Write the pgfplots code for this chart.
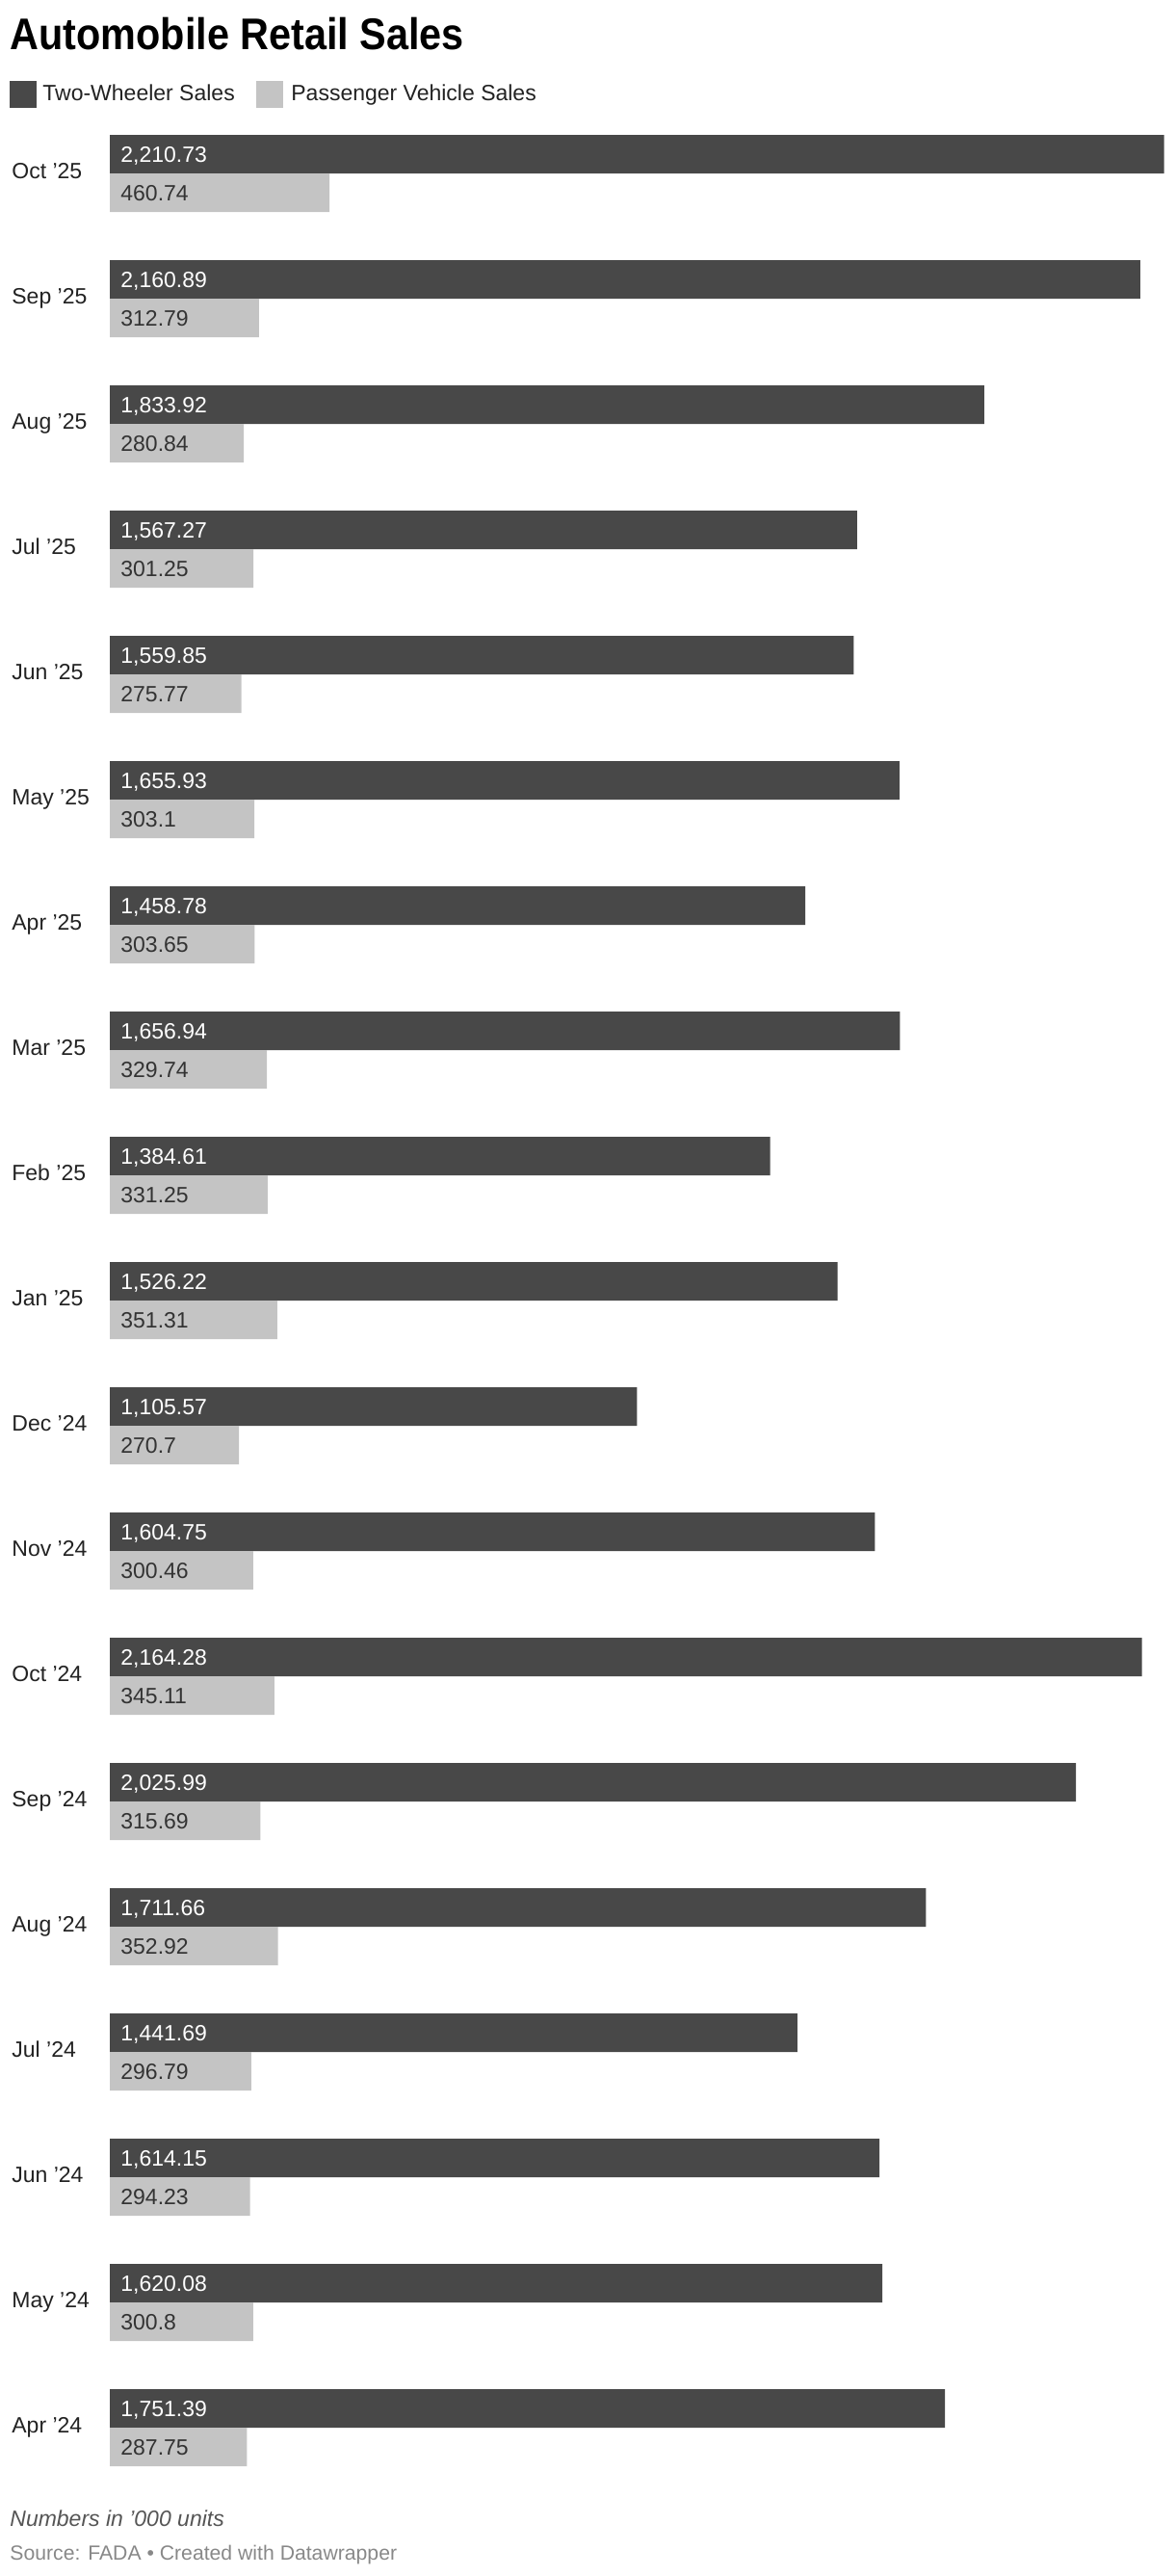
\documentclass[border=0pt]{standalone}
\usepackage{fontspec}
\setmainfont{Liberation Sans}
\newfontfamily\titlefont[FakeStretch=0.9]{Liberation Sans Bold}
\usepackage{pgfplots}
\usepackage{pgfplotstable}
\pgfplotsset{compat=1.18}
\definecolor{twc}{HTML}{484848}
\definecolor{pvc}{HTML}{C4C4C4}
\definecolor{lab}{HTML}{222222}
\definecolor{pvtxt}{HTML}{333333}
\definecolor{foota}{HTML}{555555}
\definecolor{footb}{HTML}{888888}
\pgfplotstableread{
i tw pv
0 2210.73 460.74
1 2160.89 312.79
2 1833.92 280.84
3 1567.27 301.25
4 1559.85 275.77
5 1655.93 303.1
6 1458.78 303.65
7 1656.94 329.74
8 1384.61 331.25
9 1526.22 351.31
10 1105.57 270.7
11 1604.75 300.46
12 2164.28 345.11
13 2025.99 315.69
14 1711.66 352.92
15 1441.69 296.79
16 1614.15 294.23
17 1620.08 300.8
18 1751.39 287.75
}\sales
\begin{document}
\begin{tikzpicture}
\useasboundingbox (0,0) rectangle (610pt,-1337pt);
\begin{scope}[x=0.5pt,y=-0.5pt]
\node[anchor=base west, inner sep=0pt, font=\titlefont\fontsize{23}{27}\selectfont] at (10,52) {Automobile Retail Sales};
\fill[twc] (10,84) rectangle (38,112);
\node[anchor=base west, inner sep=0pt, font=\fontsize{11.5}{14}\selectfont, text=lab] at (44,105) {Two-Wheeler Sales};
\fill[pvc] (266,84) rectangle (294,112);
\node[anchor=base west, inner sep=0pt, font=\fontsize{11.5}{14}\selectfont, text=lab] at (302,105) {Passenger Vehicle Sales};
\node[anchor=base west, inner sep=0pt, font=\itshape\fontsize{11.5}{14}\selectfont, text=foota] at (10,2622) {Numbers in {\symbol{39}}000 units};
\node[anchor=base west, inner sep=0pt, font=\fontsize{10.6}{13}\selectfont, text=footb] at (10,2657) {Source: FADA • Created with Datawrapper};
\end{scope}
\begin{axis}[
  at={(57pt,-57.5pt)}, anchor=north west,
  scale only axis, width=553pt, height=1235pt,
  xmin=0, xmax=2234, ymin=-0.5, ymax=18.5, y dir=reverse,
  axis line style={draw=none}, major tick length=0pt,
  xtick=\empty, ytick={0,...,18},
  yticklabels={Oct ’25, Sep ’25, Aug ’25, Jul ’25, Jun ’25, May ’25, Apr ’25, Mar ’25, Feb ’25, Jan ’25, Dec ’24, Nov ’24, Oct ’24, Sep ’24, Aug ’24, Jul ’24, Jun ’24, May ’24, Apr ’24},
  yticklabel style={anchor=base west, xshift=-51pt, yshift=-2.5pt, inner sep=0pt, font=\fontsize{11.5}{14}\selectfont, text=lab},
  clip=false,
  /pgf/number format/.cd, 1000 sep={,}, precision=2, assume math mode=true]
\addplot[xbar, bar width=20pt, bar shift=0pt, fill=twc, draw=none] table[x=tw, y expr=\thisrow{i}-0.153846]{\sales};
\addplot[xbar, bar width=20pt, bar shift=0pt, fill=pvc, draw=none] table[x=pv, y expr=\thisrow{i}+0.153846]{\sales};
\addplot[draw=none, nodes near coords, nodes near coords align={anchor=base west}, point meta=explicit,
  every node near coord/.append style={xshift=5.5pt, yshift=-4pt, inner sep=0pt, text=white, font=\fontsize{11.5}{14}\selectfont}]
  table[x expr=0, y expr=\thisrow{i}-0.153846, meta=tw]{\sales};
\addplot[draw=none, nodes near coords, nodes near coords align={anchor=base west}, point meta=explicit,
  every node near coord/.append style={xshift=5.5pt, yshift=-4pt, inner sep=0pt, text=pvtxt, font=\fontsize{11.5}{14}\selectfont}]
  table[x expr=0, y expr=\thisrow{i}+0.153846, meta=pv]{\sales};
\end{axis}
\end{tikzpicture}
\end{document}
